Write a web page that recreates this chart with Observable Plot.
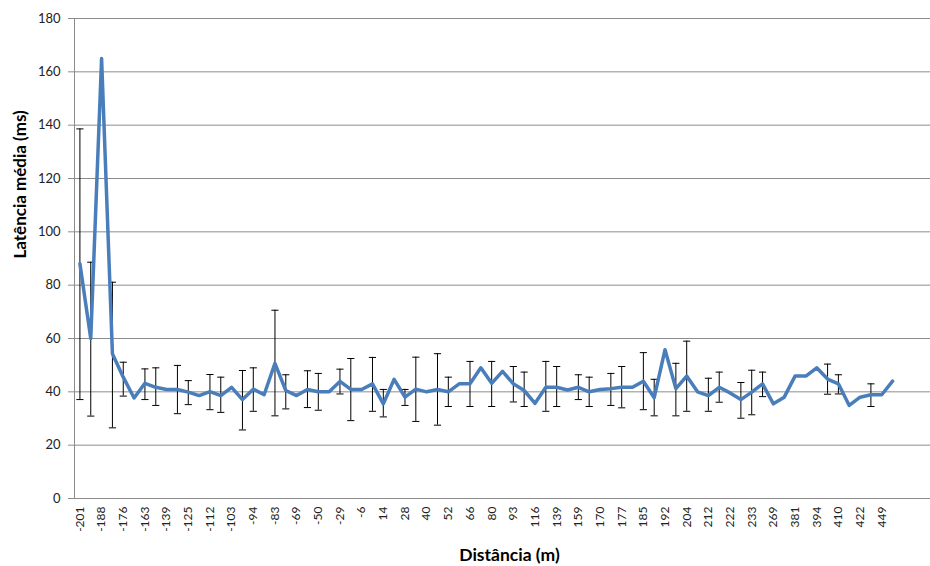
<!DOCTYPE html>
<html>
<head>
<meta charset="utf-8">
<script src="https://cdn.jsdelivr.net/npm/d3@7"></script>
<script src="https://cdn.jsdelivr.net/npm/@observablehq/plot@0.6"></script>
<style>
  html, body { margin: 0; padding: 0; background: #fff; }
  #chart svg { display: block; }
</style>
</head>
<body>
<div id="chart"></div>
<script>
// Tick labels shown on the category axis (every other category)
const xLabels = ["-201","-188","-176","-163","-139","-125","-112","-103","-94","-83",
  "-69","-50","-29","-6","14","28","40","52","66","80",
  "93","116","139","159","170","177","185","192","204","212",
  "222","233","269","381","394","410","422","449"];

// Mean latency per category (ms)
const latency = [88, 60, 165, 54.3, 45.5, 37.7, 43.2, 41.7, 40.9, 40.9,
  39.9, 38.6, 40.1, 38.6, 41.7, 37.1, 41.0, 38.9, 50.7, 40.5,
  38.6, 40.9, 40.0, 40.0, 43.9, 40.9, 40.9, 43.0, 35.5, 44.7,
  38.0, 41.0, 40.0, 40.9, 40.0, 43.0, 43.0, 49.0, 43.2, 47.7,
  43.0, 40.5, 35.7, 41.7, 41.7, 40.7, 41.7, 40.0, 40.9, 41.2,
  41.7, 41.7, 44.0, 37.8, 55.8, 41.2, 45.9, 40.0, 38.6, 41.7,
  39.6, 37.1, 39.9, 43.0, 35.5, 38.0, 45.9, 45.9, 49.0, 44.8,
  43.0, 34.9, 38.0, 38.9, 38.9, 44.0];

// Error bar upper / lower ends (null = no error bar)
const errHigh = [138.6, 88.6, null, 81.1, 51.1, null, 48.6, 49.0, null, 49.9,
  44.2, null, 46.5, 45.5, null, 48.0, 49.0, null, 70.6, 46.4,
  null, 47.9, 46.9, null, 48.5, 52.5, null, 52.9, 40.9, null,
  40.9, 53.0, null, 54.3, 45.5, null, 51.4, null, 51.4, null,
  49.5, 47.4, null, 51.4, 49.5, null, 46.4, 45.5, null, 46.9,
  49.5, null, 54.7, 44.7, null, 50.7, 59.0, null, 45.1, 47.4,
  null, 43.5, 48.1, 47.4, null, null, null, null, null, 50.4,
  46.4, null, null, 43.0, null, null];
const errLow = [37.1, 30.9, null, 26.5, 38.4, null, 37.1, 34.9, null, 31.8,
  35.2, null, 33.3, 32.3, null, 25.7, 32.7, null, 31.0, 33.6,
  null, 34.1, 33.1, null, 39.2, 29.2, null, 32.7, 30.6, null,
  34.9, 28.9, null, 27.5, 34.5, null, 34.5, null, 34.5, null,
  36.2, 34.5, null, 32.7, 34.5, null, 37.1, 34.5, null, 34.9,
  34.0, null, 33.3, 31.0, null, 31.0, 32.7, null, 32.7, 36.1,
  null, 30.1, 31.4, 38.2, null, null, null, null, null, 39.1,
  39.2, null, null, 34.5, null, null];

const yTicks = [0, 20, 40, 60, 80, 100, 120, 140, 160, 180];

const series = latency.map((v, i) => ({i, v}));
const errs = latency.map((v, i) => ({i, hi: errHigh[i], lo: errLow[i]})).filter(d => d.hi != null);
const tickIdx = xLabels.map((_, k) => k * 2);

const font = "Lato, 'Open Sans', sans-serif";
const grid = "#8c8c8c";

const chart = Plot.plot({
  width: 930,
  height: 566,
  marginLeft: 74,
  marginRight: 0,
  marginTop: 18,
  marginBottom: 68,
  style: {fontFamily: font, fontSize: "13px", color: "#222", background: "#fff"},
  x: {type: "linear", domain: [-0.5, 78.5]},
  y: {domain: [0, 180]},
  marks: [
    Plot.ruleY(yTicks, {stroke: grid, strokeWidth: 1}),
    Plot.ruleX([-0.5], {stroke: grid, strokeWidth: 1}),
    Plot.axisY({ticks: yTicks, tickSize: 6, tickPadding: 8, stroke: grid, label: null, fontSize: 13, tickFormat: d => String(d)}),
    Plot.axisX({ticks: tickIdx, tickFormat: i => xLabels[i / 2], tickRotate: -90, tickSize: 0, tickPadding: 8, label: null, fontSize: 12}),
    Plot.ruleX(errs, {x: "i", y1: "lo", y2: "hi", stroke: "#000", strokeWidth: 1}),
    Plot.link(errs, {x1: d => d.i - 0.33, x2: d => d.i + 0.33, y1: "hi", y2: "hi", stroke: "#000", strokeWidth: 1}),
    Plot.link(errs, {x1: d => d.i - 0.33, x2: d => d.i + 0.33, y1: "lo", y2: "lo", stroke: "#000", strokeWidth: 1}),
    Plot.line(series, {x: "i", y: "v", stroke: "#4a7ebb", strokeWidth: 3.5, strokeLinejoin: "round", strokeLinecap: "round"}),
    Plot.text(["Latência média (ms)"], {text: d => d, frameAnchor: "left", dx: -54, rotate: -90, fontSize: 17, fontWeight: "bold", fill: "#000", lineAnchor: "middle"}),
    Plot.text(["Distância (m)"], {text: d => d, frameAnchor: "bottom", dx: 7, dy: 57, fontSize: 17.5, fontWeight: "bold", fill: "#000", lineAnchor: "middle"})
  ]
});
document.getElementById("chart").appendChild(chart);
</script>
</body>
</html>
